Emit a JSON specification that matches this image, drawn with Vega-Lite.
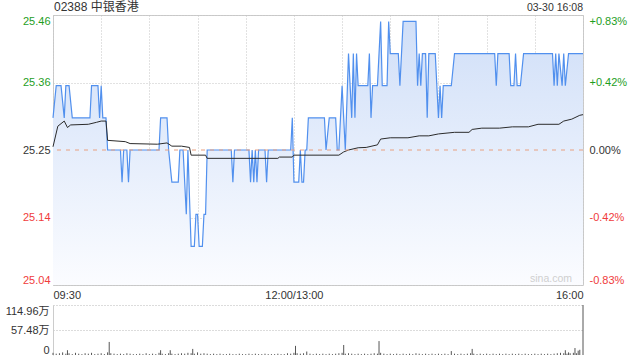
{
  "$schema": "https://vega.github.io/schema/vega-lite/v6.json",
  "padding": {"left": 5, "top": 0, "right": 0, "bottom": 0},
  "spacing": 3,
  "config": {"font": "Liberation Sans, Noto Sans CJK SC", "concat": {"spacing": 3}},
  "datasets": {
    "price": [
      {"t":0,"p":25.30},{"t":2,"p":25.35},{"t":5,"p":25.35},{"t":7,"p":25.30},{"t":8,"p":25.35},{"t":10,"p":25.35},{"t":12,"p":25.30},{"t":23,"p":25.30},{"t":24,"p":25.35},{"t":28,"p":25.35},{"t":29,"p":25.30},{"t":30,"p":25.35},{"t":31,"p":25.30},{"t":33,"p":25.30},{"t":34,"p":25.25},{"t":42,"p":25.25},{"t":43,"p":25.20},{"t":44,"p":25.25},{"t":46,"p":25.25},{"t":47,"p":25.20},{"t":48,"p":25.25},{"t":66,"p":25.25},{"t":67,"p":25.30},{"t":71,"p":25.30},{"t":72,"p":25.25},{"t":74,"p":25.20},{"t":78,"p":25.20},{"t":79,"p":25.25},{"t":81,"p":25.25},{"t":83,"p":25.15},{"t":84,"p":25.25},{"t":86,"p":25.10},{"t":88,"p":25.10},{"t":89,"p":25.15},{"t":90,"p":25.15},{"t":91,"p":25.10},{"t":93,"p":25.10},{"t":94,"p":25.15},{"t":95,"p":25.15},{"t":96,"p":25.25},{"t":111,"p":25.25},{"t":112,"p":25.20},{"t":113,"p":25.25},{"t":122,"p":25.25},{"t":123,"p":25.20},{"t":124,"p":25.25},{"t":125,"p":25.20},{"t":126,"p":25.25},{"t":127,"p":25.20},{"t":128,"p":25.25},{"t":132,"p":25.25},{"t":133,"p":25.20},{"t":134,"p":25.25},{"t":148,"p":25.25},{"t":149,"p":25.30},{"t":150,"p":25.20},{"t":153,"p":25.20},{"t":154,"p":25.25},{"t":155,"p":25.20},{"t":156,"p":25.20},{"t":157,"p":25.25},{"t":158,"p":25.25},{"t":159,"p":25.30},{"t":169,"p":25.30},{"t":170,"p":25.25},{"t":172,"p":25.30},{"t":176,"p":25.30},{"t":177,"p":25.25},{"t":178,"p":25.25},{"t":180,"p":25.35},{"t":182,"p":25.25},{"t":184,"p":25.40},{"t":186,"p":25.30},{"t":187,"p":25.40},{"t":188,"p":25.30},{"t":189,"p":25.40},{"t":190,"p":25.35},{"t":196,"p":25.35},{"t":197,"p":25.40},{"t":198,"p":25.30},{"t":199,"p":25.35},{"t":202,"p":25.35},{"t":204,"p":25.45},{"t":205,"p":25.35},{"t":208,"p":25.35},{"t":209,"p":25.45},{"t":210,"p":25.40},{"t":215,"p":25.40},{"t":216,"p":25.35},{"t":218,"p":25.45},{"t":226,"p":25.45},{"t":227,"p":25.35},{"t":228,"p":25.40},{"t":229,"p":25.35},{"t":230,"p":25.40},{"t":232,"p":25.40},{"t":233,"p":25.30},{"t":234,"p":25.40},{"t":238,"p":25.40},{"t":240,"p":25.30},{"t":241,"p":25.35},{"t":242,"p":25.30},{"t":243,"p":25.35},{"t":248,"p":25.35},{"t":250,"p":25.40},{"t":275,"p":25.40},{"t":276,"p":25.35},{"t":277,"p":25.40},{"t":284,"p":25.40},{"t":285,"p":25.35},{"t":287,"p":25.35},{"t":288,"p":25.40},{"t":289,"p":25.35},{"t":291,"p":25.35},{"t":293,"p":25.40},{"t":311,"p":25.40},{"t":312,"p":25.35},{"t":313,"p":25.40},{"t":314,"p":25.35},{"t":315,"p":25.40},{"t":317,"p":25.35},{"t":318,"p":25.40},{"t":319,"p":25.35},{"t":321,"p":25.40},{"t":330,"p":25.40}
    ],
    "avg": [
      {"t":0,"a":25.255},{"t":3,"a":25.287},{"t":7,"a":25.295},{"t":9,"a":25.285},{"t":11,"a":25.289},{"t":22,"a":25.290},{"t":27,"a":25.293},{"t":30,"a":25.295},{"t":33,"a":25.295},{"t":34,"a":25.265},{"t":45,"a":25.263},{"t":48,"a":25.260},{"t":65,"a":25.259},{"t":71,"a":25.261},{"t":74,"a":25.256},{"t":80,"a":25.256},{"t":85,"a":25.254},{"t":86,"a":25.242},{"t":95,"a":25.242},{"t":96,"a":25.237},{"t":140,"a":25.237},{"t":141,"a":25.239},{"t":149,"a":25.239},{"t":150,"a":25.242},{"t":178,"a":25.242},{"t":181,"a":25.247},{"t":184,"a":25.250},{"t":190,"a":25.2535},{"t":195,"a":25.254},{"t":202,"a":25.258},{"t":204,"a":25.267},{"t":210,"a":25.269},{"t":221,"a":25.269},{"t":228,"a":25.272},{"t":234,"a":25.272},{"t":240,"a":25.275},{"t":250,"a":25.2775},{"t":259,"a":25.2775},{"t":261,"a":25.282},{"t":267,"a":25.284},{"t":278,"a":25.284},{"t":286,"a":25.286},{"t":296,"a":25.286},{"t":302,"a":25.290},{"t":315,"a":25.290},{"t":318,"a":25.295},{"t":323,"a":25.298},{"t":328,"a":25.304},{"t":330,"a":25.305}
    ],
    "vol": [
      {"t":0,"v":5},{"t":2,"v":3},{"t":4,"v":4},{"t":6,"v":6},{"t":8,"v":3},{"t":9,"v":11},{"t":10,"v":4},{"t":12,"v":2},{"t":14,"v":5},{"t":16,"v":3},{"t":18,"v":2},{"t":20,"v":4},{"t":22,"v":3},{"t":24,"v":5},{"t":26,"v":2},{"t":28,"v":3},{"t":30,"v":4},{"t":32,"v":2},{"t":34,"v":6},{"t":35,"v":30},{"t":36,"v":4},{"t":38,"v":3},{"t":40,"v":2},{"t":42,"v":3},{"t":44,"v":2},{"t":46,"v":4},{"t":48,"v":3},{"t":50,"v":2},{"t":52,"v":2},{"t":54,"v":3},{"t":56,"v":2},{"t":58,"v":4},{"t":60,"v":2},{"t":62,"v":3},{"t":64,"v":2},{"t":66,"v":5},{"t":67,"v":11},{"t":68,"v":3},{"t":70,"v":2},{"t":72,"v":4},{"t":73,"v":11},{"t":74,"v":3},{"t":76,"v":2},{"t":78,"v":3},{"t":80,"v":4},{"t":82,"v":3},{"t":84,"v":5},{"t":86,"v":4},{"t":87,"v":14},{"t":88,"v":3},{"t":90,"v":6},{"t":92,"v":3},{"t":94,"v":4},{"t":96,"v":3},{"t":98,"v":2},{"t":100,"v":3},{"t":102,"v":2},{"t":104,"v":3},{"t":106,"v":2},{"t":108,"v":2},{"t":110,"v":3},{"t":112,"v":2},{"t":114,"v":2},{"t":116,"v":3},{"t":118,"v":2},{"t":120,"v":2},{"t":122,"v":3},{"t":124,"v":2},{"t":126,"v":3},{"t":128,"v":2},{"t":130,"v":2},{"t":132,"v":3},{"t":134,"v":2},{"t":136,"v":2},{"t":138,"v":2},{"t":140,"v":3},{"t":142,"v":2},{"t":144,"v":2},{"t":146,"v":4},{"t":148,"v":3},{"t":150,"v":5},{"t":151,"v":21},{"t":152,"v":4},{"t":154,"v":3},{"t":156,"v":4},{"t":158,"v":8},{"t":160,"v":3},{"t":162,"v":2},{"t":164,"v":3},{"t":166,"v":2},{"t":168,"v":3},{"t":170,"v":2},{"t":172,"v":3},{"t":174,"v":2},{"t":176,"v":3},{"t":178,"v":4},{"t":180,"v":5},{"t":181,"v":23},{"t":182,"v":3},{"t":184,"v":4},{"t":186,"v":3},{"t":188,"v":2},{"t":190,"v":3},{"t":192,"v":2},{"t":194,"v":3},{"t":196,"v":2},{"t":198,"v":3},{"t":200,"v":4},{"t":202,"v":3},{"t":203,"v":32},{"t":204,"v":5},{"t":206,"v":3},{"t":208,"v":2},{"t":210,"v":3},{"t":212,"v":2},{"t":214,"v":3},{"t":216,"v":2},{"t":218,"v":3},{"t":220,"v":2},{"t":222,"v":3},{"t":224,"v":2},{"t":226,"v":4},{"t":228,"v":3},{"t":230,"v":2},{"t":232,"v":3},{"t":234,"v":2},{"t":236,"v":3},{"t":238,"v":2},{"t":240,"v":3},{"t":242,"v":2},{"t":244,"v":3},{"t":246,"v":2},{"t":248,"v":9},{"t":250,"v":3},{"t":252,"v":2},{"t":254,"v":3},{"t":256,"v":2},{"t":258,"v":3},{"t":260,"v":4},{"t":261,"v":14},{"t":262,"v":3},{"t":264,"v":2},{"t":266,"v":3},{"t":268,"v":2},{"t":270,"v":3},{"t":272,"v":2},{"t":274,"v":3},{"t":276,"v":2},{"t":278,"v":3},{"t":280,"v":2},{"t":282,"v":3},{"t":284,"v":2},{"t":286,"v":3},{"t":288,"v":2},{"t":290,"v":3},{"t":292,"v":2},{"t":294,"v":3},{"t":296,"v":2},{"t":298,"v":2},{"t":300,"v":3},{"t":302,"v":2},{"t":304,"v":3},{"t":306,"v":2},{"t":308,"v":3},{"t":310,"v":2},{"t":312,"v":3},{"t":314,"v":4},{"t":316,"v":5},{"t":318,"v":4},{"t":319,"v":11},{"t":320,"v":3},{"t":321,"v":6},{"t":322,"v":4},{"t":324,"v":5},{"t":325,"v":16},{"t":326,"v":4},{"t":327,"v":10},{"t":328,"v":12},{"t":330,"v":114.96}
    ]
  },
  "vconcat": [
    {
      "width": 530,
      "height": 270,
      "view": {"stroke": "#cccccc"},
      "layer": [
        {
          "layer": [
            {
              "data": {"name": "price"},
              "mark": {"type": "area", "fill": {"gradient": "linear", "x1": 0, "y1": 0, "x2": 0, "y2": 1, "stops": [{"offset": 0, "color": "#d0dff8"}, {"offset": 1, "color": "#fbfcff"}]}},
              "encoding": {
                "x": {"field": "t", "type": "quantitative", "scale": {"domain": [0, 330], "nice": false, "zero": false},
                  "axis": {"values": [0, 30, 60, 90, 120, 150, 180, 210, 240, 270, 300, 330], "labelExpr": "datum.value==0?'09:30':datum.value==150?'12:00/13:00':datum.value==330?'16:00':''", "labelFlush": true, "labelOverlap": false, "ticks": false, "domain": false, "grid": true, "gridColor": "#c4c4c4", "gridDash": [1, 2], "labelColor": "#333333", "labelFontSize": 11, "labelPadding": 4, "title": null}},
                "y": {"field": "p", "type": "quantitative", "scale": {"domain": [25.04, 25.46], "nice": false, "zero": false},
                  "axis": {"values": [25.04, 25.145, 25.25, 25.355, 25.46], "labelExpr": "datum.value>25.4?'25.46':datum.value>25.3?'25.36':datum.value>25.2?'25.25':datum.value>25.1?'25.14':'25.04'", "labelColor": {"condition": [{"test": "datum.value > 25.26", "value": "#1e9e1e"}, {"test": "datum.value < 25.24", "value": "#f03c3c"}], "value": "#333333"}, "labelFlush": true, "labelFontSize": 11, "labelPadding": 3, "ticks": false, "domain": false, "grid": true, "gridColor": "#c4c4c4", "gridDash": [1, 2], "gridOpacity": {"condition": {"test": "datum.value == 25.25", "value": 0}, "value": 1}, "title": null}},
                "y2": {"datum": 25.04}
              }
            },
            {
              "data": {"name": "price"},
              "mark": {"type": "line", "color": "#5190ee", "strokeWidth": 1.2},
              "encoding": {
                "x": {"field": "t", "type": "quantitative"},
                "y": {"field": "p", "type": "quantitative"}
              }
            },
            {
              "data": {"name": "avg"},
              "mark": {"type": "line", "color": "#2b2b2b", "strokeWidth": 1},
              "encoding": {
                "x": {"field": "t", "type": "quantitative"},
                "y": {"field": "a", "type": "quantitative"}
              }
            },
            {
              "data": {"values": [{}]},
              "mark": {"type": "text", "align": "left", "baseline": "bottom", "dx": 1, "dy": -1, "fontSize": 12, "color": "#333333"},
              "encoding": {
                "x": {"datum": 0, "type": "quantitative"},
                "y": {"datum": 25.46, "type": "quantitative"},
                "text": {"value": "02388 中银香港"}
              }
            },
            {
              "data": {"values": [{}]},
              "mark": {"type": "text", "align": "right", "baseline": "bottom", "dy": -2, "fontSize": 10.5, "color": "#333333"},
              "encoding": {
                "x": {"datum": 330, "type": "quantitative"},
                "y": {"datum": 25.46, "type": "quantitative"},
                "text": {"value": "03-30 16:08"}
              }
            },
            {
              "data": {"values": [{}]},
              "mark": {"type": "text", "align": "right", "baseline": "bottom", "dx": -11, "dy": -1, "fontSize": 10.5, "color": "#cfcfcf"},
              "encoding": {
                "x": {"datum": 330, "type": "quantitative"},
                "y": {"datum": 25.04, "type": "quantitative"},
                "text": {"value": "sina.com"}
              }
            }
          ]
        },
        {
          "data": {"values": [{}]},
          "mark": {"type": "rule", "color": "#e8a080", "strokeDash": [4, 5], "strokeWidth": 1},
          "encoding": {
            "y": {"datum": 0, "type": "quantitative", "scale": {"domain": [-0.83, 0.83], "nice": false, "zero": false},
              "axis": {"orient": "right", "values": [-0.83, -0.415, 0, 0.415, 0.83], "labelExpr": "datum.value>0.8?'+0.83%':datum.value>0.4?'+0.42%':datum.value>-0.1?'0.00%':datum.value>-0.5?'-0.42%':'-0.83%'", "labelColor": {"condition": [{"test": "datum.value > 0.01", "value": "#1e9e1e"}, {"test": "datum.value < -0.01", "value": "#f03c3c"}], "value": "#333333"}, "labelFlush": true, "labelFontSize": 11, "labelPadding": 6, "ticks": false, "domain": false, "grid": false, "title": null}}
          }
        }
      ],
      "resolve": {"scale": {"y": "independent"}, "axis": {"y": "independent"}}
    },
    {
      "width": 530,
      "height": 50,
      "view": {"stroke": null},
      "data": {"name": "vol"},
      "mark": {"type": "rule", "color": "#555555", "strokeWidth": 1},
      "encoding": {
        "x": {"field": "t", "type": "quantitative", "scale": {"domain": [0, 330], "nice": false, "zero": false}, "axis": null},
        "y": {"field": "v", "type": "quantitative", "scale": {"domain": [0, 114.96], "nice": false},
          "axis": {"values": [0, 57.48, 114.96], "labelExpr": "datum.value==0?'0':datum.value>100?'114.96万':'57.48万'", "labelFlush": true, "labelFontSize": 11, "labelPadding": 4, "labelColor": "#333333", "ticks": false, "domain": true, "domainColor": "#cccccc", "grid": true, "gridColor": "#b8b8b8", "gridDash": [1, 2], "gridOpacity": {"condition": {"test": "datum.value == 0", "value": 0}, "value": 1}, "title": null}},
        "y2": {"datum": 0}
      }
    }
  ]
}
